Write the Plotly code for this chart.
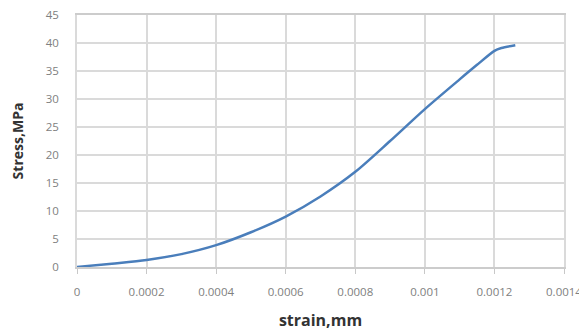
import plotly.graph_objects as go

strain = [0, 0.0001, 0.0002, 0.0003, 0.0004, 0.0005, 0.0006, 0.0007, 0.0008,
          0.0009, 0.001, 0.0011, 0.00115, 0.0012, 0.00122, 0.00126]
stress = [0, 0.6, 1.25, 2.3, 3.9, 6.2, 9.0, 12.6, 17.0,
          22.5, 28.2, 33.5, 36.1, 38.6, 39.1, 39.6]

x_ticks = [0, 0.0002, 0.0004, 0.0006, 0.0008, 0.001, 0.0012, 0.0014]
x_labels = ["0", "0.0002", "0.0004", "0.0006", "0.0008", "0.001", "0.0012", "0.0014"]
y_ticks = [0, 5, 10, 15, 20, 25, 30, 35, 40, 45]

fig = go.Figure()
fig.add_trace(go.Scatter(x=strain, y=stress, mode="lines",
                         line=dict(color="#4a7ebb", width=2.5, shape="spline", smoothing=0.8),
                         showlegend=False))

grid = "#dadada"
fig.update_layout(
    width=579, height=328,
    margin=dict(l=69, r=23, t=7, b=69),
    paper_bgcolor="white", plot_bgcolor="white",
    font=dict(family="Open Sans", size=11.5, color="#808080"),
    xaxis=dict(range=[0, 0.0014], tickvals=x_ticks, ticktext=x_labels,
               automargin=False, ticklabeloverflow="allow",
               tickfont=dict(size=11.5),
               showgrid=True, gridcolor=grid, gridwidth=1.5,
               showline=True, linecolor="#cccccc", linewidth=1.5, mirror=True,
               ticks="outside", ticklen=5, tickcolor="#c8c8c8",
               ticklabelstandoff=8, zeroline=False,
               title=dict(text="<b>strain,mm</b>", font=dict(size=16, color="#333333"), standoff=17)),
    yaxis=dict(range=[0, 45], tickvals=y_ticks, automargin=False, ticklabeloverflow="allow",
               tickfont=dict(size=11.5),
               showgrid=True, gridcolor=grid, gridwidth=1.5,
               showline=True, linecolor=grid, linewidth=1.5, mirror=True,
               zeroline=False,
               ticks="outside", ticklen=4, tickcolor="white",
               ticklabelstandoff=10,
               title=dict(text="<b>Stress,MPa</b>", font=dict(size=14, color="#333333"), standoff=19)),
)
fig.write_html("out.html")
